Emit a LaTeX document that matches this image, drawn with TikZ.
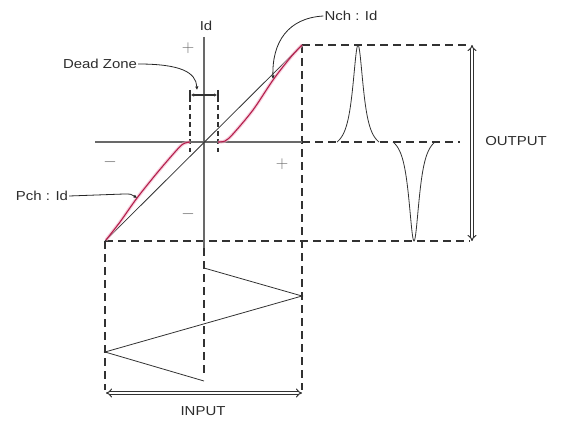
\documentclass[tikz,border=0pt]{standalone}
\usepackage{fontspec}
\setmainfont{Liberation Sans}[FakeStretch=1.15]
\usetikzlibrary{arrows.meta,positioning,calc}
\definecolor{axisgray}{RGB}{105,105,105}
\definecolor{linegray}{RGB}{50,50,50}
\definecolor{chred}{RGB}{180,30,75}
\definecolor{chpink}{RGB}{240,175,198}
\definecolor{textgray}{RGB}{45,45,45}

\begin{document}
\begin{tikzpicture}[x=1pt,y=-1pt,
 every node/.style={font=\fontsize{13}{15}\selectfont,text=textgray,inner sep=1pt},
 sign/.style={font=\fontsize{16}{16}\selectfont,text=axisgray},
 axis/.style={draw=axisgray,line width=1.4pt},
 guide/.style={draw=linegray,line width=1.3pt,dash pattern=on 8pt off 5pt},
 shortguide/.style={draw=linegray,line width=1.1pt,dash pattern=on 5pt off 3.5pt},
 wave/.style={draw=linegray,line width=0.8pt},
 chcurve/.style={draw=chred,line width=1.1pt},
 chglow/.style={draw=chpink,line width=3.4pt,opacity=0.6},
 callout/.style={draw=black!85,line width=0.8pt,-{Latex[length=3.5pt,width=3.5pt]}},
 spanarrow/.style={draw=linegray,double=white,double distance=2pt,line width=1pt,{Implies}-{Implies}}
]
\useasboundingbox (0,0) rectangle (561,422);

% key points of the transfer curve
\coordinate (O) at (204,142);
\coordinate (pmax) at (302,45);
\coordinate (pmin) at (105,241);
\coordinate (dzl) at (190,142);
\coordinate (dzr) at (218,142);

% guides
\draw[guide] (pmax) -- (470,45);
\draw[guide] (pmin) -- (470,241);
\draw[guide] (pmax) -- (302,390);
\draw[guide] (pmin) -- (105,390);
\draw[guide] (302,142) -- (460,142);
\draw[guide] (204,248) -- (204,375);
\draw[shortguide] (190,97) -- (190,152);
\draw[shortguide] (218,97) -- (218,152);

% axes
\draw[axis] (95,142) -- (302,142);
\draw[axis] (204,37) -- (204,248);
\draw[wave] (pmin) -- (pmax);

% Pch / Nch curves
\draw[chglow] plot[smooth] coordinates {(106,240) (120,222) (137,198) (157,173) (175,152) (183,144) (dzl)};
\draw[chglow] plot[smooth] coordinates {(dzr) (225,141) (233,134) (253,110) (273,80) (290,58) (302,45)};
\draw[chcurve] plot[smooth] coordinates {(106,240) (120,222) (137,198) (157,173) (175,152) (183,144) (dzl)};
\draw[chcurve] plot[smooth] coordinates {(dzr) (225,141) (233,134) (253,110) (273,80) (290,58) (302,45)};

% dead zone bracket
\draw[linegray,line width=1.1pt,{Latex[length=3pt,width=3.5pt]}-{Latex[length=3pt,width=3.5pt]}] (191,95) -- (217,95);
\draw[linegray,line width=1.1pt] (190,90) -- (190,100);
\draw[linegray,line width=1.1pt] (218,90) -- (218,100);

% input waveform
\draw[wave] (204,268) -- (302,296) -- (105,352) -- (204,381);

% output pulses
\draw[wave] plot[domain=-21:21,samples=85,smooth] ({358+\x},{142-97*(1/(1+(\x/6.5)^2)-0.0874)/(1-0.0874)});
\draw[wave] plot[domain=-21:21,samples=85,smooth] ({414+\x},{142+99*(1/(1+(\x/6.5)^2)-0.0874)/(1-0.0874)});

% ranges
\draw[spanarrow] (472,45) -- (472,241);
\draw[spanarrow] (106,393) -- (302,393);

% labels
\node (id) at (206,26) {Id};
\node (dz) at (100,64) {Dead Zone};
\node (pch) at (42,196) {Pch : Id};
\node (nch) at (351,16) {Nch : Id};
\node (out) at (516,141) {OUTPUT};
\node (in) at (203,411) {INPUT};
\node[sign] at (188,48) {$+$};
\node[sign] at (110,162) {$-$};
\node[sign] at (282,164) {$+$};
\node[sign] at (188,214) {$-$};

% callouts
\coordinate (dztip) at (197,90);
\coordinate (pchtip) at (137,198);
\coordinate (nchtip) at (273,79);
\draw[callout] (dz.east) .. controls (180,64) and (196,72) .. (dztip);
\draw[callout] (pch.east) -- (124,194) .. controls (131,194) .. (pchtip);
\draw[callout] (nch.west) .. controls (288,18) and (272,42) .. (nchtip);
\end{tikzpicture}
\end{document}
